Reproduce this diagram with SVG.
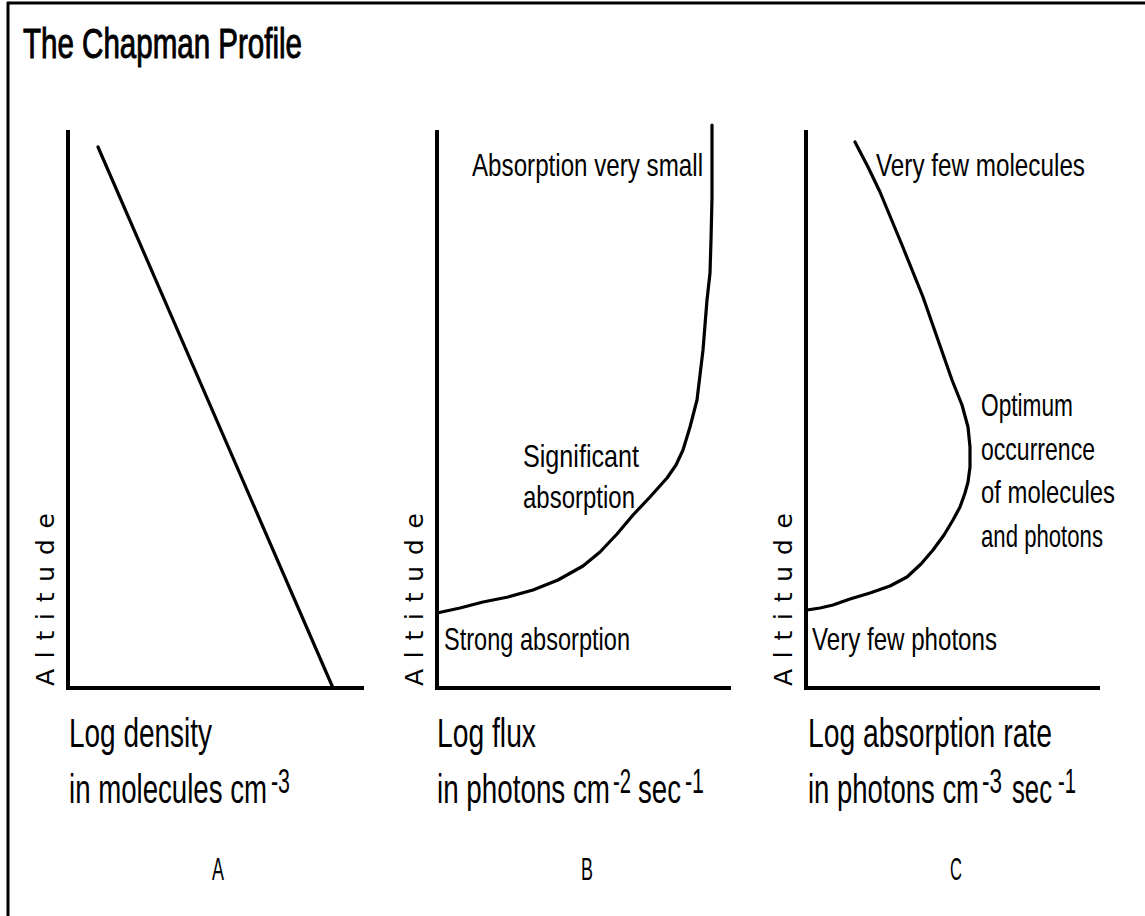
<svg xmlns="http://www.w3.org/2000/svg" width="1145" height="916" viewBox="0 0 1145 916">
<style>
.bg{fill:#ffffff}
.frame{stroke:#000;stroke-width:3;fill:none}
.axis{stroke:#000;stroke-width:4;fill:none;stroke-linecap:square}
.curve{stroke:#000;stroke-width:3.2;fill:none;stroke-linejoin:round;stroke-linecap:round}
text{font-family:"Liberation Sans","DejaVu Sans",sans-serif;fill:#000}
.title{font-size:29.5px;stroke:#000;stroke-width:0.7}
.ax{font-size:28px}
.sup{font-size:24px}
.lab{font-size:24px}
.alt{font-family:"DejaVu Sans","Liberation Sans",sans-serif;font-size:25px}
.pl{font-size:18px}
</style>
<rect class="bg" x="0" y="0" width="1145" height="916"/>
<g id="frame">
<line class="frame" x1="7" y1="3" x2="1145" y2="3"/>
<line class="frame" x1="8" y1="2" x2="8" y2="916"/>
</g>
<text id="title" class="title" transform="translate(23,58) scale(1,1.42)" textLength="279" lengthAdjust="spacingAndGlyphs">The Chapman Profile</text>

<g id="panelA">
<line class="axis" x1="68" y1="132" x2="68" y2="688"/>
<line class="axis" x1="68" y1="688" x2="362" y2="688"/>
<polyline class="curve" points="98,147 333,688"/>
<text class="alt" transform="translate(54,686) rotate(-90)" textLength="173" lengthAdjust="spacing">Altitude</text>
<text class="ax" transform="translate(69,747) scale(1,1.48)" textLength="143" lengthAdjust="spacingAndGlyphs">Log density</text>
<text class="ax" transform="translate(69,803) scale(1,1.48)" textLength="198" lengthAdjust="spacingAndGlyphs">in molecules cm</text>
<text class="sup" transform="translate(271,793) scale(1,1.48)" textLength="19" lengthAdjust="spacingAndGlyphs">-3</text>
<text class="pl" transform="translate(212,880) scale(1,1.78)" textLength="12" lengthAdjust="spacingAndGlyphs">A</text>
</g>

<g id="panelB">
<line class="axis" x1="437" y1="132" x2="437" y2="688"/>
<line class="axis" x1="437" y1="688" x2="729" y2="688"/>
<polyline class="curve" points="437,613 460,608 483,602 508,597 533,590 558,580 583,566 600,552 617,534 633,515 650,497 667,478 676,465 683,450 690,427 697,400 700,375 703,350 707,300 710,273 711,240 712,198 712,125"/>
<text class="alt" transform="translate(423,686) rotate(-90)" textLength="173" lengthAdjust="spacing">Altitude</text>
<text class="lab" transform="translate(472,176) scale(1,1.3)" textLength="231" lengthAdjust="spacingAndGlyphs">Absorption very small</text>
<text class="lab" transform="translate(523,467) scale(1,1.3)" textLength="116" lengthAdjust="spacingAndGlyphs">Significant</text>
<text class="lab" transform="translate(523,508) scale(1,1.3)" textLength="112" lengthAdjust="spacingAndGlyphs">absorption</text>
<text class="lab" transform="translate(444,650) scale(1,1.3)" textLength="186" lengthAdjust="spacingAndGlyphs">Strong absorption</text>
<text class="ax" transform="translate(437,747) scale(1,1.48)" textLength="99" lengthAdjust="spacingAndGlyphs">Log flux</text>
<text class="ax" transform="translate(437,803) scale(1,1.48)" textLength="173" lengthAdjust="spacingAndGlyphs">in photons cm</text>
<text class="sup" transform="translate(613,793) scale(1,1.48)" textLength="18" lengthAdjust="spacingAndGlyphs">-2</text>
<text class="ax" transform="translate(638,803) scale(1,1.48)" textLength="43" lengthAdjust="spacingAndGlyphs">sec</text>
<text class="sup" transform="translate(685,793) scale(1,1.48)" textLength="19" lengthAdjust="spacingAndGlyphs">-1</text>
<text class="pl" transform="translate(581,880) scale(1,1.78)" textLength="12" lengthAdjust="spacingAndGlyphs">B</text>
</g>

<g id="panelC">
<line class="axis" x1="806" y1="132" x2="806" y2="688"/>
<line class="axis" x1="806" y1="688" x2="1098" y2="688"/>
<polyline class="curve" points="855,142 868,167 880,192 902,245 923,297 938,340 952,380 962,405 968,427 970,447 970,467 968,482 965,493 960,507 953,520 944,535 933,550 921,564 907,577 890,586 870,593 850,599 833,605 820,608 807,610"/>
<text class="alt" transform="translate(792,686) rotate(-90)" textLength="173" lengthAdjust="spacing">Altitude</text>
<text class="lab" transform="translate(876,176) scale(1,1.3)" textLength="209" lengthAdjust="spacingAndGlyphs">Very few molecules</text>
<text class="lab" transform="translate(981,416) scale(1,1.3)" textLength="92" lengthAdjust="spacingAndGlyphs">Optimum</text>
<text class="lab" transform="translate(981,460) scale(1,1.3)" textLength="114" lengthAdjust="spacingAndGlyphs">occurrence</text>
<text class="lab" transform="translate(981,503) scale(1,1.3)" textLength="134" lengthAdjust="spacingAndGlyphs">of molecules</text>
<text class="lab" transform="translate(981,547) scale(1,1.3)" textLength="122" lengthAdjust="spacingAndGlyphs">and photons</text>
<text class="lab" transform="translate(812,650) scale(1,1.3)" textLength="185" lengthAdjust="spacingAndGlyphs">Very few photons</text>
<text class="ax" transform="translate(808,747) scale(1,1.48)" textLength="244" lengthAdjust="spacingAndGlyphs">Log absorption rate</text>
<text class="ax" transform="translate(808,803) scale(1,1.48)" textLength="171" lengthAdjust="spacingAndGlyphs">in photons cm</text>
<text class="sup" transform="translate(982,793) scale(1,1.48)" textLength="20" lengthAdjust="spacingAndGlyphs">-3</text>
<text class="ax" transform="translate(1012,803) scale(1,1.48)" textLength="40" lengthAdjust="spacingAndGlyphs">sec</text>
<text class="sup" transform="translate(1058,793) scale(1,1.48)" textLength="18" lengthAdjust="spacingAndGlyphs">-1</text>
<text class="pl" transform="translate(950,880) scale(1,1.78)" textLength="12" lengthAdjust="spacingAndGlyphs">C</text>
</g>
</svg>
